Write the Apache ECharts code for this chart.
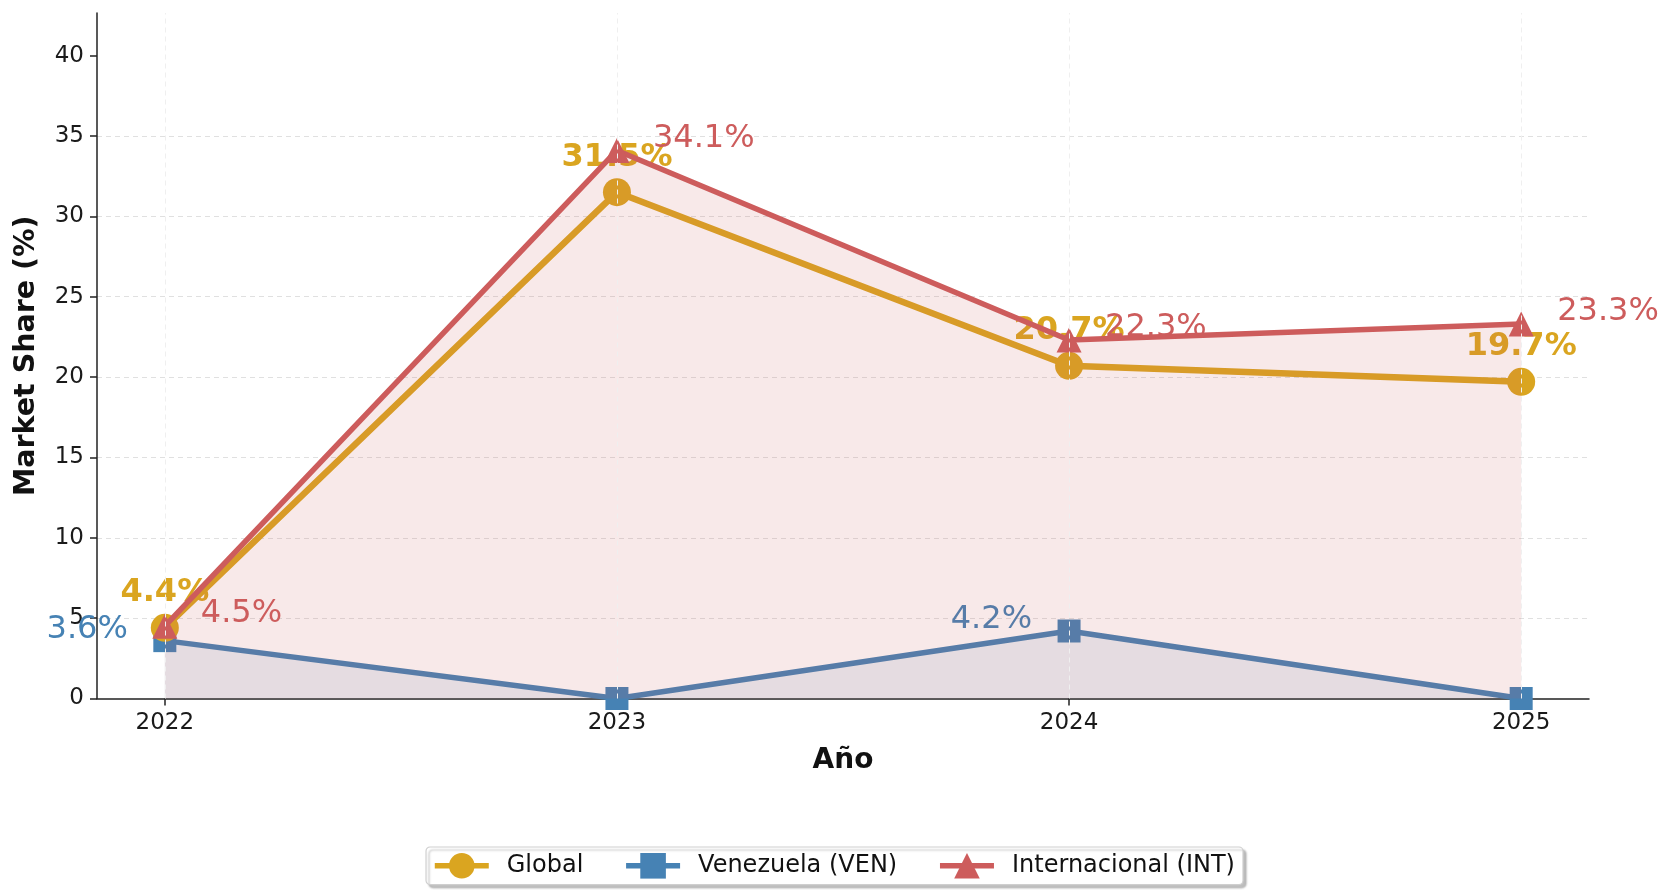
<!DOCTYPE html>
<html>
<head>
<meta charset="utf-8">
<script src="https://cdn.jsdelivr.net/npm/echarts@6/dist/echarts.min.js"></script>
<style>html,body{margin:0;padding:0;background:#fff;}#c{width:1667px;height:890px;}</style>
</head>
<body>
<div id="c"></div>
<script>
const years = ['2022', '2023', '2024', '2025'];
const globalVals = [4.4, 31.5, 20.7, 19.7];
const venVals = [3.6, 0.0, 4.2, 0.0];
const intVals = [4.5, 34.1, 22.3, 23.3];
const yTicks = [0, 5, 10, 15, 20, 25, 30, 35, 40];
const seriesNames = ['Global', 'Venezuela (VEN)', 'Internacional (INT)'];

const FONT = 'DejaVu Sans';
const GOLD = '#DAA520', BLUE = '#4682B4', RED = '#CD5C5C';
const xIdx = years.map((y, i) => i);
const toData = arr => arr.map((v, i) => [i, v]);
const fmt = p => p.value[1] === 0 ? '' : p.value[1].toFixed(1) + '%';

const chart = echarts.init(document.getElementById('c'), null, {renderer: 'canvas'});
chart.setOption({
  animation: false,
  backgroundColor: '#fff',
  textStyle: {fontFamily: FONT},
  grid: {left: 97, right: 78, top: 13, bottom: 191.5, containLabel: false},
  xAxis: {
    type: 'value', min: -0.15, max: 3.15,
    name: 'Año', nameLocation: 'middle', nameGap: 48,
    nameTextStyle: {fontFamily: FONT, fontSize: 28, fontWeight: 'bold', color: '#111'},
    axisLine: {onZero: false, lineStyle: {color: '#222', width: 1.5}},
    axisTick: {customValues: xIdx, length: 7, lineStyle: {color: '#222', width: 1.5}},
    axisLabel: {customValues: xIdx, formatter: v => years[Math.round(v)] || '', fontFamily: FONT, fontSize: 23, color: '#1a1a1a', margin: 13},
    splitLine: {show: false}
  },
  yAxis: {
    type: 'value', min: 0, max: 42.65, interval: 5,
    name: 'Market Share (%)', nameLocation: 'middle', nameGap: 56, nameRotate: 90,
    nameTextStyle: {fontFamily: FONT, fontSize: 28.5, fontWeight: 'bold', color: '#111'},
    axisLine: {show: true, onZero: false, lineStyle: {color: '#222', width: 1.5}},
    axisTick: {show: true, customValues: yTicks, length: 7, lineStyle: {color: '#222', width: 1.5}},
    axisLabel: {customValues: yTicks, fontFamily: FONT, fontSize: 23, color: '#1a1a1a', margin: 13},
    splitLine: {show: true, showMinLine: false, showMaxLine: false, lineStyle: {color: '#e0e0e0', type: [5, 4], width: 1}}
  },
  legend: {
    data: seriesNames,
    left: 'center', top: 847,
    itemWidth: 54, itemHeight: 32, itemGap: 40,
    padding: [6, 8, 6, 6],
    borderColor: '#cfcfcf', borderWidth: 1.2, borderRadius: 4,
    backgroundColor: '#fff',
    shadowColor: 'rgba(0,0,0,0.25)', shadowBlur: 2, shadowOffsetX: 3, shadowOffsetY: 3,
    lineStyle: {width: 5.5},
    textStyle: {fontFamily: FONT, fontSize: 24, color: '#111', padding: [0, 0, 0, 13]}
  },
  series: [
    {
      name: 'Global', type: 'line', data: toData(globalVals),
      color: GOLD, symbol: 'circle', symbolSize: 28, z: 3,
      lineStyle: {width: 6.5, color: GOLD}, itemStyle: {color: GOLD},
      label: {show: true, position: 'inside', offset: [0, -35], formatter: fmt,
        fontFamily: FONT, fontSize: 32, fontWeight: 'bold', color: GOLD},
      markLine: {
        silent: true, symbol: 'none', label: {show: false},
        lineStyle: {color: '#efefef', type: [5, 4], width: 1},
        data: xIdx.map(i => ({xAxis: i}))
      }
    },
    {
      name: 'Venezuela (VEN)', type: 'line', data: toData(venVals),
      color: BLUE, symbol: 'rect', symbolSize: 23, z: 2,
      lineStyle: {width: 5.5, color: BLUE}, itemStyle: {color: BLUE},
      areaStyle: {color: 'rgba(70,130,180,0.16)', origin: 'start'},
      label: {show: true, position: 'inside', align: 'right', verticalAlign: 'middle', offset: [-37, -11], formatter: fmt,
        fontFamily: FONT, fontSize: 32, color: BLUE}
    },
    {
      name: 'Internacional (INT)', type: 'line', data: toData(intVals),
      color: RED, symbol: 'triangle', symbolSize: 25, z: 4,
      lineStyle: {width: 5.5, color: RED}, itemStyle: {color: RED},
      areaStyle: {color: 'rgba(205,92,92,0.19)', origin: 'start'},
      label: {show: true, position: 'inside', align: 'left', verticalAlign: 'middle', offset: [36, -12], formatter: fmt,
        fontFamily: FONT, fontSize: 32, color: RED}
    }
  ]
});
</script>
</body>
</html>
